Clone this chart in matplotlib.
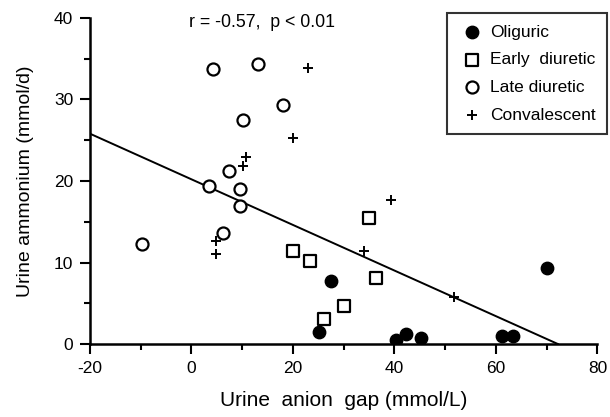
import matplotlib
matplotlib.use("Agg")
import matplotlib.pyplot as plt
import numpy as np
from matplotlib.ticker import MultipleLocator

plt.rcParams["font.family"] = ["Liberation Sans", "DejaVu Sans"]
plt.rcParams["axes.unicode_minus"] = False

oliguric_x = [27.4, 25.2, 40.2, 42.2, 45.2, 61.1, 63.3, 70.0]
oliguric_y = [7.7, 1.5, 0.5, 1.2, 0.7, 1.0, 1.0, 9.3]

early_x = [34.9, 20.1, 23.3, 36.3, 30.0, 26.2]
early_y = [15.4, 11.4, 10.2, 8.1, 4.7, 3.1]

late_x = [4.3, 13.2, 18.1, 10.1, 7.3, 3.4, 9.5, 9.5, 6.3, -9.7]
late_y = [33.7, 34.3, 29.3, 27.5, 21.2, 19.4, 19.0, 16.9, 13.6, 12.3]

conv_x = [22.9, 20.1, 10.8, 10.1, 4.9, 4.9, 39.4, 33.9, 51.7]
conv_y = [33.9, 25.3, 22.9, 21.8, 12.6, 11.1, 17.7, 11.4, 5.8]

# regression line end points
line_x = [-20, 72.2]
line_y = [25.8, 0.0]

fig = plt.figure(figsize=(6.1, 4.17), dpi=100)
ax = fig.add_axes([0.1475, 0.175, 0.832, 0.782])

ax.plot(line_x, line_y, color="black", linewidth=1.4, zorder=1)
ax.scatter(oliguric_x, oliguric_y, s=80, marker="o", facecolor="black",
           edgecolor="black", label="Oliguric", zorder=3)
ax.scatter(early_x, early_y, s=80, marker="s", facecolor="white",
           edgecolor="black", linewidth=1.6, label="Early  diuretic", zorder=3)
ax.scatter(late_x, late_y, s=75, marker="o", facecolor="white",
           edgecolor="black", linewidth=1.6, label="Late diuretic", zorder=3)
ax.scatter(conv_x, conv_y, s=45, marker="+", color="black",
           linewidth=1.4, label="Convalescent", zorder=3)

ax.set_xlim(-20, 80)
ax.set_ylim(0, 40)
ax.xaxis.set_major_locator(MultipleLocator(20))
ax.xaxis.set_minor_locator(MultipleLocator(10))
ax.yaxis.set_major_locator(MultipleLocator(10))
ax.yaxis.set_minor_locator(MultipleLocator(5))
ax.tick_params(which="both", direction="out", width=1.5, labelsize=12.5)
ax.tick_params(which="major", length=7, pad=5)
ax.tick_params(which="minor", length=4)

for side in ["top", "right"]:
    ax.spines[side].set_visible(False)
for side in ["left", "bottom"]:
    ax.spines[side].set_linewidth(1.8)

ax.set_xlabel("Urine  anion  gap (mmol/L)", fontsize=15, labelpad=11)
ax.set_ylabel("Urine ammonium (mmol/d)", fontsize=14, labelpad=14)

ax.text(-0.5, 39.4, "r = -0.57,  p < 0.01", fontsize=12.8, va="center", ha="left")

leg = ax.legend(loc="upper right", bbox_to_anchor=(1.025, 1.025), fontsize=12.5,
                frameon=True, fancybox=False, edgecolor="black",
                handletextpad=0.3, borderpad=0.65, labelspacing=0.72,
                handlelength=1.5, borderaxespad=0.2)
leg.get_frame().set_linewidth(1.5)

fig.savefig("out.png", dpi=100, facecolor="white")
